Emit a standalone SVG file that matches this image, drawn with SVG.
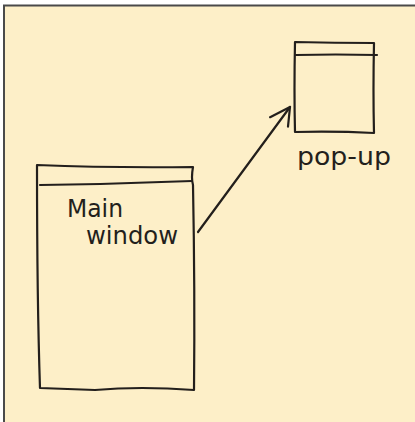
<svg xmlns="http://www.w3.org/2000/svg" width="415" height="422" viewBox="0 0 415 422">
<style>
.ink{fill:none;stroke:#231f1c;stroke-width:2.2;stroke-linecap:round;stroke-linejoin:round}
.lbl{font-family:"Comic Sans MS","DejaVu Sans",sans-serif;font-size:24px;fill:#231f1c}
</style>
<defs>
<marker id="ah" markerWidth="26" markerHeight="26" refX="22" refY="13" orient="auto" markerUnits="userSpaceOnUse">
<path d="M2,3 L22,13 L5,23" fill="none" stroke="#231f1c" stroke-width="2.2" stroke-linecap="round" stroke-linejoin="round"/>
</marker>
</defs>
<rect x="0" y="0" width="415" height="422" fill="#ffffff"/>
<rect x="4" y="5.5" width="415" height="420" fill="#fdefc8" stroke="#4a4a4a" stroke-width="2"/>
<g id="main-window">
<path class="ink" d="M37,165 Q110,168 193,167 Q191,178 193,185 Q195,290 194,390 Q140,386 95,390 Q70,389 40,388 Q37,300 37,165 Z"/>
<path class="ink" d="M40,185 Q115,184 192,181"/>
<text class="lbl" x="67" y="217" textLength="56" lengthAdjust="spacingAndGlyphs">Main</text>
<text class="lbl" x="86" y="244" textLength="92" lengthAdjust="spacingAndGlyphs">window</text>
</g>
<g id="pop-up">
<path class="ink" d="M295,42 Q335,43 374,43 Q373,90 374,133 Q335,131 295,132 Q294,90 295,42 Z"/>
<path class="ink" d="M296,55 Q335,54 377,55"/>
<text class="lbl" x="297" y="165" textLength="94" lengthAdjust="spacingAndGlyphs">pop-up</text>
</g>
<g id="connectors">
<path class="ink" d="M198,232 Q240,175 290,107" marker-end="url(#ah)"/>
</g>
</svg>
